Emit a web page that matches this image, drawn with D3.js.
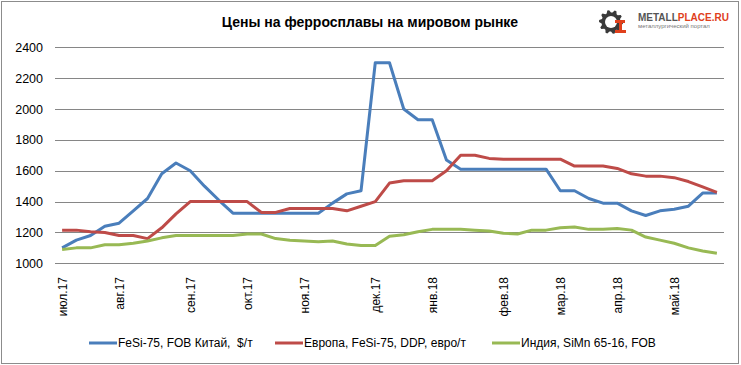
<!DOCTYPE html>
<html><head><meta charset="utf-8">
<script src="https://cdn.jsdelivr.net/npm/d3@7/dist/d3.min.js"></script>
<style>
body{margin:0;background:#fff;}
text{font-family:"Liberation Sans",Arial,sans-serif;}
</style></head>
<body><svg id="c" width="741" height="365"></svg>
<script>
const title = "Цены на ферросплавы на мировом рынке";
const seriesNames = ["FeSi-75, FOB Китай,  $/т", "Европа, FeSi-75, DDP, евро/т", "Индия, SiMn 65-16, FOB"];
const seriesColors = ["#4A7EBB", "#BE4B48", "#98B954"];
// weekly observations, Jul 2017 – May 2018
const weekIndex = d3.range(47);
const monthIndex = [0, 4, 9, 13, 17, 22, 26, 31, 35, 39, 43];
const monthLabels = ["июл.17","авг.17","сен.17","окт.17","ноя.17","дек.17","янв.18","фев.18","мар.18","апр.18","май.18"];
const yTicks = [1000,1200,1400,1600,1800,2000,2200,2400];
const chinaFeSi = [1100,1150,1180,1240,1260,1340,1420,1580,1650,1600,1500,1410,1325,1325,1325,1325,1325,1325,1325,1390,1450,1470,2300,2300,2000,1930,1930,1670,1610,1610,1610,1610,1610,1610,1610,1470,1470,1420,1390,1390,1340,1310,1340,1350,1370,1455,1455];
const europeFeSi = [1215,1215,1205,1200,1180,1180,1160,1230,1320,1400,1400,1400,1400,1400,1330,1330,1355,1355,1355,1355,1340,1370,1400,1520,1535,1535,1535,1600,1700,1700,1680,1675,1675,1675,1675,1675,1630,1630,1630,1615,1580,1565,1565,1555,1530,1495,1460];
const indiaSiMn = [1090,1100,1100,1120,1120,1130,1145,1165,1180,1180,1180,1180,1180,1190,1190,1160,1150,1145,1140,1145,1125,1115,1115,1175,1185,1205,1220,1220,1220,1215,1210,1195,1190,1215,1215,1230,1235,1220,1220,1225,1215,1170,1150,1130,1100,1080,1065];
const allSeries = [chinaFeSi, europeFeSi, indiaSiMn];

const svg = d3.select("#c");
svg.append("rect").attr("x",1.5).attr("y",1.5).attr("width",737).attr("height",362)
  .attr("fill","#fff").attr("stroke","#8c8c8c").attr("stroke-width",1);

const x = d3.scalePoint().domain(weekIndex).range([55,724]).padding(0.5);
const y = d3.scaleLinear().domain([1000,2400]).range([263.3,47.3]);

// gridlines
svg.append("g").selectAll("line").data(yTicks).join("line")
  .attr("x1",55).attr("x2",724).attr("y1",d=>Math.round(y(d))+0.5).attr("y2",d=>Math.round(y(d))+0.5)
  .attr("stroke","#868686").attr("stroke-width",1);

// y axis labels
const ya = svg.append("g").attr("transform","translate(55,0)")
  .call(d3.axisLeft(y).tickValues(yTicks).tickSize(0).tickPadding(12).tickFormat(d3.format("d")));
ya.select(".domain").remove();
ya.selectAll("text").attr("font-size","12.5px").attr("fill","#000").attr("font-family","Liberation Sans, Arial, sans-serif");

// x axis labels
const xa = svg.append("g").attr("transform","translate(0,263)")
  .call(d3.axisBottom(x).tickValues(monthIndex).tickSize(0).tickFormat((d,i)=>monthLabels[i]));
xa.select(".domain").remove();
xa.selectAll("text").attr("font-size","12px").attr("fill","#000")
  .attr("font-family","Liberation Sans, Arial, sans-serif")
  .attr("text-anchor","end").attr("transform","rotate(-90)")
  .attr("x",-14).attr("y",0).attr("dy","0.35em");

// lines
const line = d3.line().x((d,i)=>x(i)).y(d=>y(d));
allSeries.forEach((s,k)=>{
  svg.append("path").datum(s).attr("d",line).attr("fill","none")
    .attr("stroke",seriesColors[k]).attr("stroke-width",3).attr("stroke-linejoin","round").attr("stroke-linecap","butt");
});

// title
svg.append("text").attr("x",370).attr("y",27).attr("text-anchor","middle")
  .attr("font-size","14px").attr("font-weight","bold").attr("fill","#000").text(title);

// legend
const legX = [89, 275, 492];
seriesNames.forEach((n,k)=>{
  const g = svg.append("g").attr("transform",`translate(${legX[k]},343)`);
  g.append("line").attr("x1",0).attr("x2",28).attr("y1",0).attr("y2",0).attr("stroke",seriesColors[k]).attr("stroke-width",3);
  g.append("text").attr("x",29).attr("y",0).attr("dy","0.35em").attr("font-size","12px").attr("fill","#000")
    .style("white-space","pre").text(n);
});

// logo
const logo = svg.append("g").attr("transform","translate(611,22)");
const teeth = 10, rO = 12, rI = 9.5;
const pts = [];
for(let i=0;i<teeth*4;i++){
  const a = i/(teeth*4)*2*Math.PI;
  const r = (Math.floor(i/2)%2===0)? rO : rI;
  pts.push([r*Math.cos(a), r*Math.sin(a)]);
}
logo.append("path").attr("d", d3.line()(pts)+"Z").attr("fill","#3a3a3a");
logo.append("circle").attr("r",6).attr("fill","#fff");
logo.append("path").attr("d","M4,-2 L14,-2 L14,1 L11,1 L11,8 L15,8 L15,11 L4,11 L4,8 L8,8 L8,1 L4,1 Z").attr("fill","#e0401c");
svg.append("text").attr("x",638).attr("y",21).attr("font-size","10px").attr("font-weight","bold").attr("fill","#555")
  .text("METALL").append("tspan").attr("fill","#e0401c").text("PLACE.RU");
svg.append("text").attr("x",638).attr("y",28).attr("font-size","6px").attr("fill","#777").text("металлургический портал");
</script></body></html>
